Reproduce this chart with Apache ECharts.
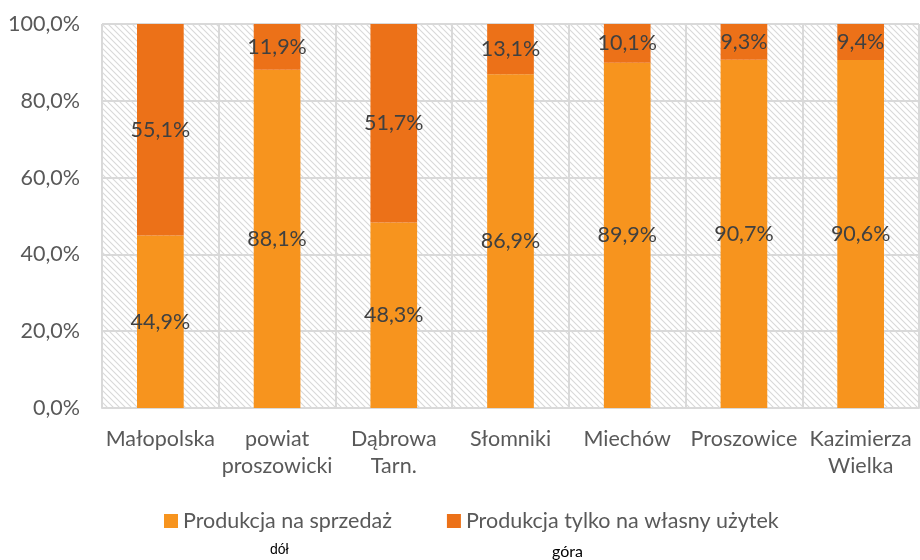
<!DOCTYPE html>
<html>
<head>
<meta charset="utf-8">
<script src="https://cdn.jsdelivr.net/npm/echarts@6/dist/echarts.min.js"></script>
<style>
  html, body { margin: 0; padding: 0; background: #fff; }
  #main { width: 920px; height: 560px; }
</style>
</head>
<body>
<div id="main"></div>
<script>
// dane
var categories = ['Małopolska', 'powiat\nproszowicki', 'Dąbrowa\nTarn.', 'Słomniki', 'Miechów', 'Proszowice', 'Kazimierza\nWielka']
var seriesNames = ['Produkcja na sprzedaż', 'Produkcja tylko na własny użytek']
var salesValues = [44.9, 88.1, 48.3, 86.9, 89.9, 90.7, 90.6]
var ownUseValues = [55.1, 11.9, 51.7, 13.1, 10.1, 9.3, 9.4]
var yTicks = [0, 20, 40, 60, 80, 100]

var FONT = 'Lato'
var FS = 21.5

// ukośne kreskowanie tła
function makeHatch() {
  var c = document.createElement('canvas')
  c.width = 6
  c.height = 6
  var ctx = c.getContext('2d')
  ctx.fillStyle = '#ffffff'
  ctx.fillRect(0, 0, 6, 6)
  ctx.strokeStyle = '#d9d9d9'
  ctx.lineWidth = 1.1
  ctx.beginPath()
  ctx.moveTo(-1, -1)
  ctx.lineTo(7, 7)
  ctx.moveTo(-7, -1)
  ctx.lineTo(1, 7)
  ctx.moveTo(5, -1)
  ctx.lineTo(13, 7)
  ctx.stroke()
  return c
}

function pct(v) {
  return v.toFixed(1).replace('.', ',') + '%'
}

var myChart = echarts.init(document.getElementById('main'), null, { renderer: 'canvas' })

var labelStyle = {
  show: true,
  position: 'inside',
  color: '#404040',
  fontSize: FS,
  fontFamily: FONT,
  formatter: function(p) { return pct(p.value) }
}

myChart.setOption({
  animation: false,
  textStyle: { fontFamily: FONT },
  grid: {
    left: 102,
    right: 1,
    top: 24,
    bottom: 152,
    show: true,
    borderWidth: 0,
    backgroundColor: { image: makeHatch(), repeat: 'repeat' }
  },
  legend: {
    left: 164,
    top: 510,
    padding: 0,
    itemWidth: 14,
    itemHeight: 14,
    itemGap: 55,
    icon: 'rect',
    textStyle: { fontSize: FS, color: '#595959', fontFamily: FONT },
    data: seriesNames
  },
  xAxis: {
    type: 'category',
    data: categories,
    axisLine: { show: true, lineStyle: { color: '#d9d9d9', width: 2 } },
    axisTick: { show: false },
    splitLine: { show: true, lineStyle: { color: '#d9d9d9', width: 2 } },
    axisLabel: {
      interval: 0,
      margin: 18,
      fontSize: FS,
      lineHeight: 27,
      color: '#595959',
      fontFamily: FONT
    }
  },
  yAxis: {
    type: 'value',
    min: yTicks[0],
    max: yTicks[yTicks.length - 1],
    interval: 20,
    axisLine: { show: false },
    axisTick: { show: false },
    splitLine: { show: true, lineStyle: { color: '#d9d9d9', width: 2 } },
    axisLabel: {
      margin: 22,
      fontSize: FS,
      color: '#595959',
      fontFamily: FONT,
      formatter: function(v) { return pct(v) }
    }
  },
  series: [
    {
      name: seriesNames[0],
      type: 'bar',
      stack: 'total',
      barWidth: '40%',
      itemStyle: { color: '#F7941E' },
      label: labelStyle,
      data: salesValues
    },
    {
      name: seriesNames[1],
      type: 'bar',
      stack: 'total',
      barWidth: '40%',
      itemStyle: { color: '#EC7118' },
      label: labelStyle,
      data: ownUseValues
    }
  ],
  graphic: [
    {
      type: 'text',
      left: 270,
      top: 543,
      style: { text: 'dół', fontSize: 14, fill: '#000', fontFamily: 'Liberation Sans' }
    },
    {
      type: 'text',
      left: 552,
      top: 544,
      style: { text: 'góra', fontSize: 16, fill: '#000', fontFamily: FONT }
    }
  ]
})
</script>
</body>
</html>
